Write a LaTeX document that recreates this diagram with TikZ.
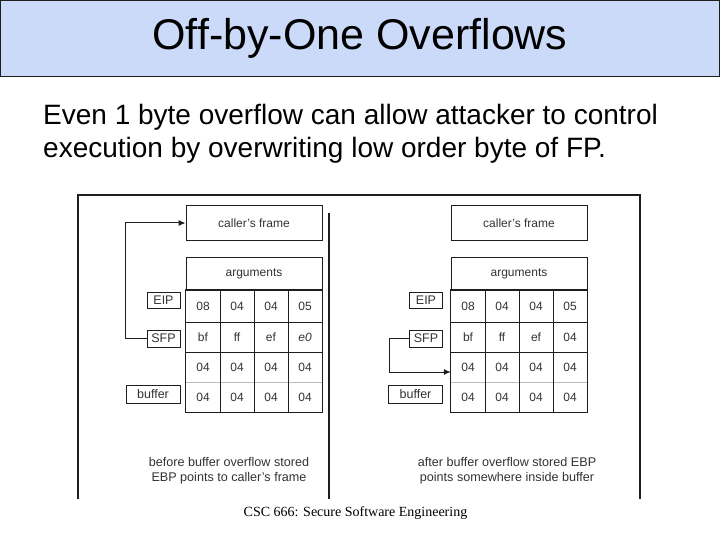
\documentclass[tikz,border=0pt]{standalone}
\usepackage{fontspec}
\setmainfont{Liberation Sans}
\newfontfamily\footserif{Liberation Serif}
\usetikzlibrary{arrows.meta}
\definecolor{titlebg}{HTML}{CCDAF9}
\definecolor{ink}{HTML}{1E1E1E}
\definecolor{txt}{HTML}{333333}
\definecolor{lightrule}{HTML}{BDBDBD}
\tikzset{
  box/.style={draw=ink, line width=1pt, inner sep=0pt, text=txt,
    font=\fontsize{12}{12}\selectfont},
  cell/.style={inner sep=0pt, text=txt, font=\fontsize{12}{12}\selectfont,
    minimum width=34pt, minimum height=30pt},
  grid/.style={draw=ink, line width=1pt},
  lbl/.style={box, minimum width=33pt, minimum height=16pt, font=\fontsize{12.5}{12.5}\selectfont},
  conn/.style={draw=ink, line width=1pt, -{Latex[length=7pt,width=6pt]}},
  caption/.style={text=txt, inner sep=0pt, font=\fontsize{12.6}{12.6}\selectfont},
  lightline/.style={draw=lightrule, line width=1pt}
}
\newcommand\stackpanel[4]{%
  % #1 prefix, #2 table shift, #3 label shift, #4 last SFP byte
  \begin{scope}[name prefix=#1-]
    \node[box, minimum width=136pt, minimum height=34pt] (caller) at (254+#2,223) {caller's frame};
    \node[box, minimum width=136pt, minimum height=33pt] (args) at (254+#2,273.5) {arguments};
    \node[cell, minimum height=32pt] (c11) at (203+#2,306) {08};
    \node[cell, minimum height=32pt] (c12) at (237+#2,306) {04};
    \node[cell, minimum height=32pt] (c13) at (271+#2,306) {04};
    \node[cell, minimum height=32pt] (c14) at (305+#2,306) {05};
    \node[cell] (c21) at (203+#2,337) {bf};
    \node[cell] (c22) at (237+#2,337) {ff};
    \node[cell] (c23) at (271+#2,337) {ef};
    \node[cell] (c24) at (305+#2,337) {#4};
    \node[cell] (c31) at (203+#2,367) {04};
    \node[cell] (c32) at (237+#2,367) {04};
    \node[cell] (c33) at (271+#2,367) {04};
    \node[cell] (c34) at (305+#2,367) {04};
    \node[cell] (c41) at (203+#2,397) {04};
    \node[cell] (c42) at (237+#2,397) {04};
    \node[cell] (c43) at (271+#2,397) {04};
    \node[cell] (c44) at (305+#2,397) {04};
    % grid of the table
    \draw[lightline] (c31.south west) -- (c34.south east);
    \draw[grid] (c11.north west) rectangle (c44.south east);
    \draw[grid] (c11.south west) -- (c14.south east);
    \draw[grid] (c21.south west) -- (c24.south east);
    \draw[grid] (c11.north east) -- (c41.south east);
    \draw[grid] (c12.north east) -- (c42.south east);
    \draw[grid] (c13.north east) -- (c43.south east);
    \node[lbl] (eip) at (163.5+#3,300.5) {EIP};
    \node[lbl, minimum height=17pt] (sfp) at (163.5+#3,338.5) {SFP};
    \node[lbl, minimum width=54pt, minimum height=18pt] (buf) at (153+#3,394) {buffer};
  \end{scope}%
}
\begin{document}
\begin{tikzpicture}[x=1pt,y=-1pt]
\useasboundingbox (0,0) rectangle (720,540);
\fill[white] (0,0) rectangle (720,540);
% title bar
\node[draw=ink, fill=titlebg, line width=1pt, minimum width=719pt, minimum height=75.5pt,
  inner sep=0pt, font=\fontsize{43}{43}\selectfont] (title) at (360,38.5)
  {\raisebox{-5pt}{Off-by-One Overflows}};
% body text
\node[anchor=base west, inner sep=0pt, font=\fontsize{28}{33}\selectfont] (body1) at (43,125)
  {Even 1 byte overflow can allow attacker to control};
\node[anchor=base west, inner sep=0pt, font=\fontsize{28}{33}\selectfont] (body2) at (43,158)
  {execution by overwriting low order byte of FP.};
% figure frame
\draw[ink, line width=1.2pt] (78,499) -- (78,195) -- (640,195) -- (640,499);
\draw[ink, line width=1.3pt] (329,213) -- (329,499);
% panels
\stackpanel{L}{0}{0}{\textit{e0}}
\stackpanel{R}{265}{262.5}{04}
% connectors
\draw[conn] (L-sfp.west) -- ++(-21,0) |- (L-caller.west);
\coordinate (R-tgt) at ([yshift=-5pt]R-c31.west);
\draw[conn] (R-sfp.west) -- ++(-20,0) |- (R-tgt);
% captions
\node[caption, align=center] (capL) at (229,471)
  {before buffer overflow stored\\[2.4pt]EBP points to caller's frame};
\node[caption, align=center] (capR) at (507,471)
  {after buffer overflow stored EBP\\[2.4pt]points somewhere inside buffer};
% footer
\node[inner sep=0pt, font=\footserif\fontsize{14}{14}\selectfont] (footer) at (355.5,513)
  {CSC 666: Secure Software Engineering};
\end{tikzpicture}
\end{document}
